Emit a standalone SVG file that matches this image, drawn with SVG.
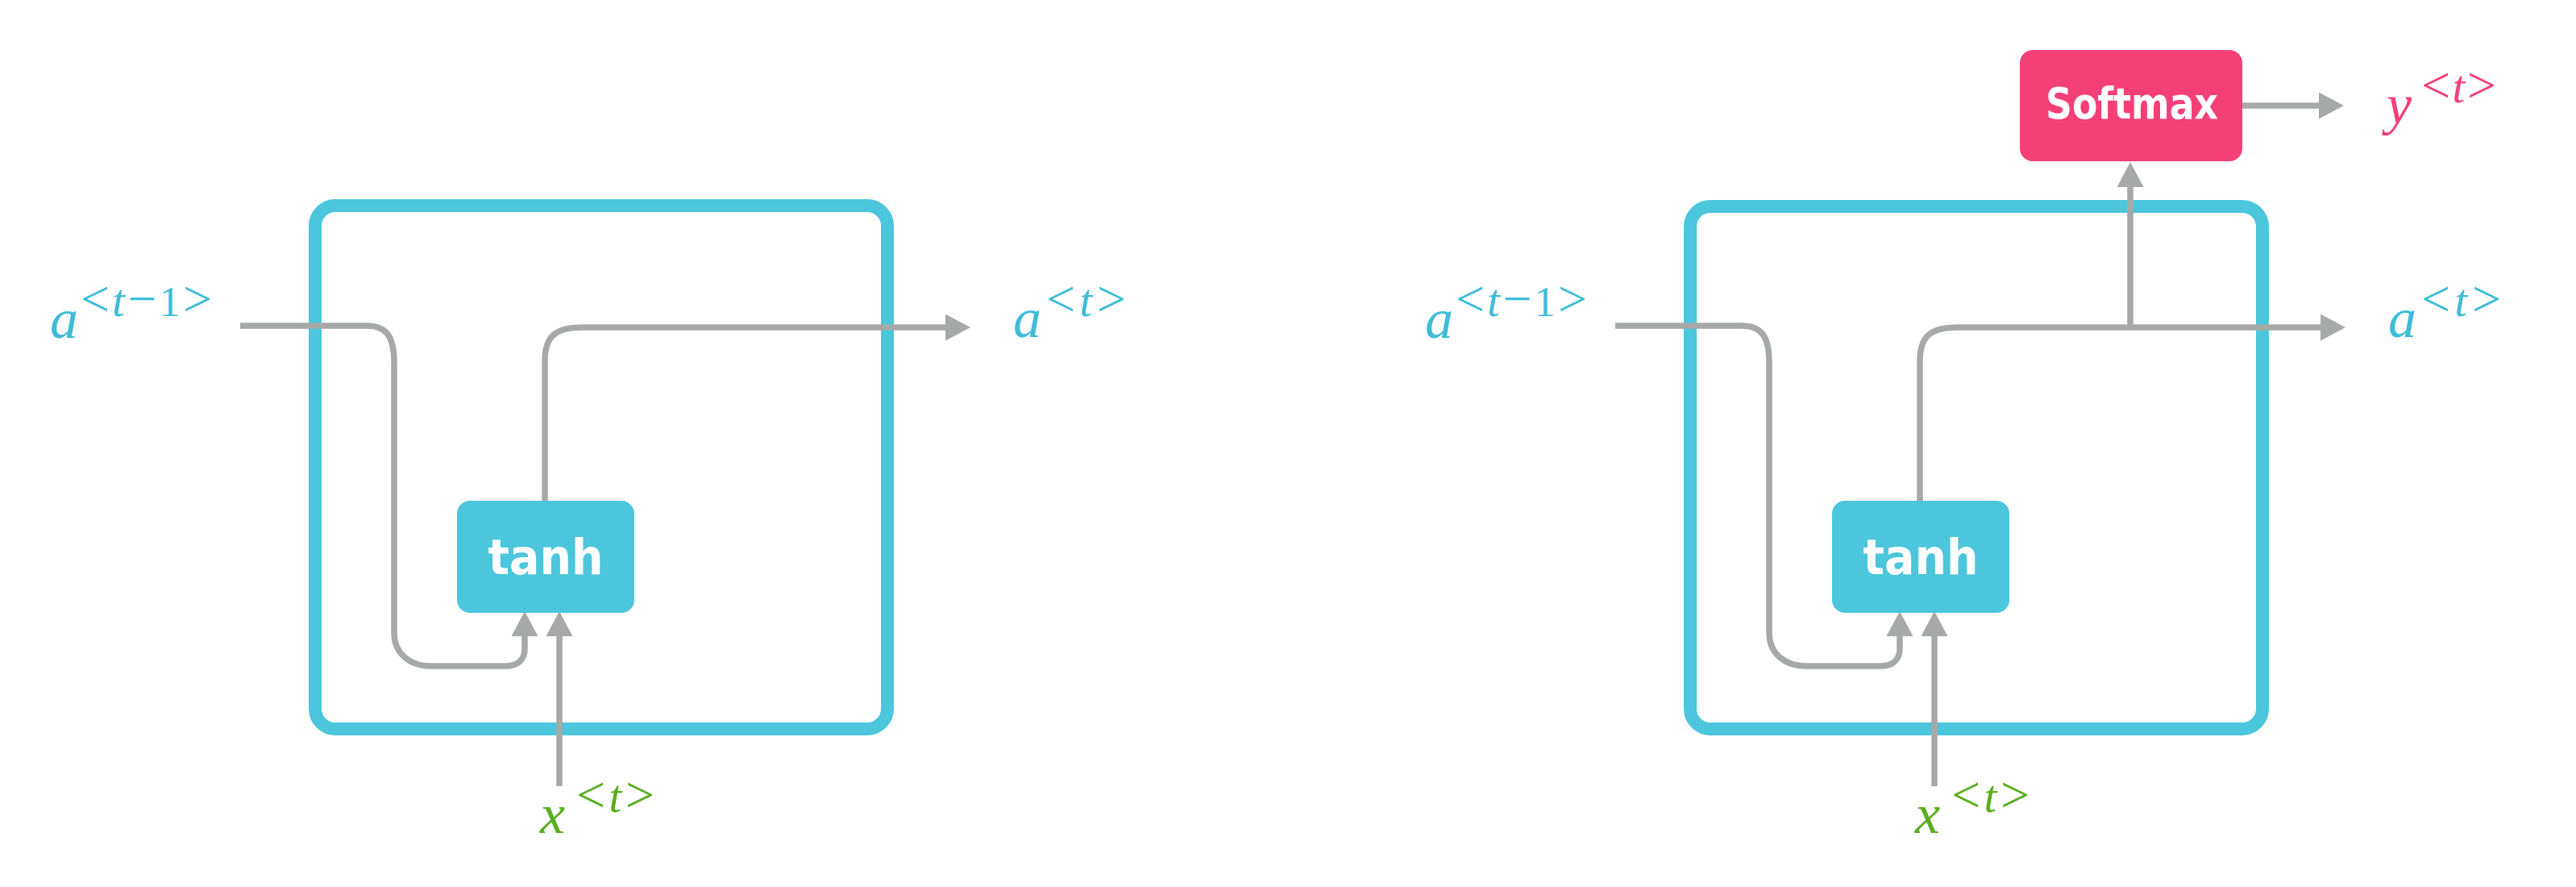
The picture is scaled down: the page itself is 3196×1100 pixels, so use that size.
<svg xmlns="http://www.w3.org/2000/svg" width="3196" height="1100" viewBox="0 0 3196 1100">
<style>
.cell{fill:none;stroke:#4bc6dc;stroke-width:16}
.conn{fill:none;stroke:#a6a9a8;stroke-width:7.5}
.tanh{fill:#4bc6dc}
.soft{fill:#f43f77}
.lbl{font-family:"DejaVu Sans Condensed","DejaVu Sans",sans-serif;font-weight:bold;fill:#ffffff;text-anchor:middle}
.m{font-family:"Liberation Serif","Times New Roman",serif;font-size:52px}
.it{font-style:italic;font-size:57px}
.big{font-size:64px}
.base{font-size:70px;font-style:italic}
.cy{fill:#3fbcd8}
.gr{fill:#5aae20}
.pk{fill:#f2417a}
</style>
<defs>
<marker id="ah" markerUnits="userSpaceOnUse" markerWidth="31" markerHeight="33" viewBox="0 0 31 33" refX="0" refY="16.5" orient="auto">
<path d="M0,0 L31,16.5 L0,33 z" fill="#a6a9a8"/>
</marker>
</defs>
<rect width="3196" height="1100" fill="#ffffff"/>

<g id="panel-left">
<g id="cell-left"><rect class="cell" x="391" y="255" width="710" height="649" rx="25" ry="25"/></g>
<g id="connectors-left">
<path class="conn" d="M298,404 H455 C480,404 489,418 489,450 V785 C489,810 508,826 535,826 H628 C642,826 651,818 651,805 V789" marker-end="url(#ah)"/>
<path class="conn" d="M694,975 V789" marker-end="url(#ah)"/>
<path class="conn" d="M676,621 V448 C676,418 688,406 722,406 H1173" marker-end="url(#ah)"/>
</g>
<g id="tanh-left">
<rect class="tanh" x="567" y="621" width="220" height="139" rx="16" ry="16"/>
<text class="lbl" x="677" y="712" font-size="61" textLength="143" lengthAdjust="spacingAndGlyphs">tanh</text>
</g>
<g id="label-a-prev-left">
<text class="m base cy" x="62" y="419">a</text>
<text class="m cy" x="100" y="392" textLength="163" lengthAdjust="spacing"><tspan class="big">&lt;</tspan><tspan class="it">t</tspan><tspan class="big">−</tspan>1<tspan class="big">&gt;</tspan></text>
</g>
<g id="label-a-left">
<text class="m base cy" x="1257" y="418">a</text>
<text class="m cy" x="1298" y="392" textLength="99" lengthAdjust="spacing"><tspan class="big">&lt;</tspan><tspan class="it">t</tspan><tspan class="big">&gt;</tspan></text>
</g>
<g id="label-x-left">
<text class="m base gr" x="670" y="1033">x</text>
<text class="m gr" x="715" y="1007" textLength="97" lengthAdjust="spacing"><tspan class="big">&lt;</tspan><tspan class="it">t</tspan><tspan class="big">&gt;</tspan></text>
</g>
</g>

<g id="panel-right">
<g id="cell-right"><rect class="cell" x="2097" y="256" width="710" height="648" rx="25" ry="25"/></g>
<g id="connectors-right">
<path class="conn" d="M2004,404 H2161 C2186,404 2195,418 2195,450 V785 C2195,810 2214,826 2241,826 H2334 C2348,826 2357,818 2357,805 V789" marker-end="url(#ah)"/>
<path class="conn" d="M2400,975 V789" marker-end="url(#ah)"/>
<path class="conn" d="M2382,621 V448 C2382,418 2394,406 2428,406 H2879" marker-end="url(#ah)"/>
<path class="conn" d="M2643,406 V232" marker-end="url(#ah)"/>
<path class="conn" d="M2782,131 H2877" marker-end="url(#ah)"/>
</g>
<g id="tanh-right">
<rect class="tanh" x="2273" y="621" width="220" height="139" rx="16" ry="16"/>
<text class="lbl" x="2383" y="712" font-size="61" textLength="143" lengthAdjust="spacingAndGlyphs">tanh</text>
</g>
<g id="softmax">
<rect class="soft" x="2506" y="62" width="276" height="138" rx="16" ry="16"/>
<text class="lbl" x="2645" y="147" font-size="53" textLength="214" lengthAdjust="spacingAndGlyphs">Softmax</text>
</g>
<g id="label-a-prev-right">
<text class="m base cy" x="1768" y="419">a</text>
<text class="m cy" x="1806" y="392" textLength="163" lengthAdjust="spacing"><tspan class="big">&lt;</tspan><tspan class="it">t</tspan><tspan class="big">−</tspan>1<tspan class="big">&gt;</tspan></text>
</g>
<g id="label-a-right">
<text class="m base cy" x="2963" y="418">a</text>
<text class="m cy" x="3004" y="392" textLength="99" lengthAdjust="spacing"><tspan class="big">&lt;</tspan><tspan class="it">t</tspan><tspan class="big">&gt;</tspan></text>
</g>
<g id="label-x-right">
<text class="m base gr" x="2376" y="1033">x</text>
<text class="m gr" x="2421" y="1007" textLength="97" lengthAdjust="spacing"><tspan class="big">&lt;</tspan><tspan class="it">t</tspan><tspan class="big">&gt;</tspan></text>
</g>
<g id="label-y">
<text class="m base pk" x="2961" y="153">y</text>
<text class="m pk" x="3004" y="127" textLength="93" lengthAdjust="spacing"><tspan class="big">&lt;</tspan><tspan class="it">t</tspan><tspan class="big">&gt;</tspan></text>
</g>
</g>
</svg>
